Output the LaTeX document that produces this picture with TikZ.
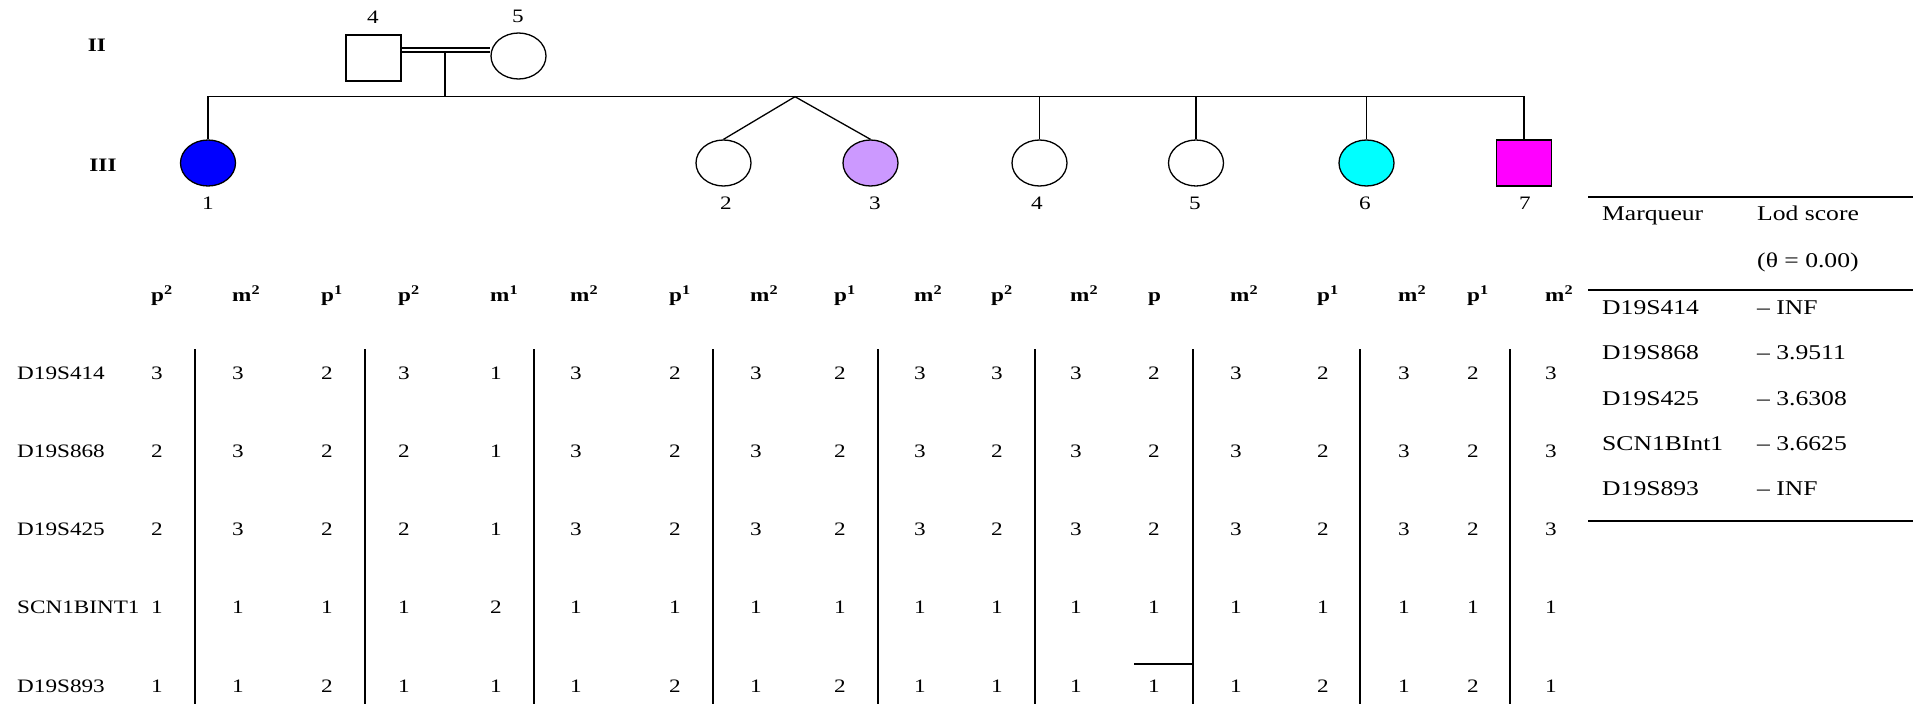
\documentclass[tikz,border=0pt]{standalone}
\usepackage{fontspec}
\setmainfont{Liberation Serif}[FakeStretch=1.22]
\usetikzlibrary{shapes.geometric}
\definecolor{cblue}{HTML}{0000FF}
\definecolor{clav}{HTML}{CC99FF}
\definecolor{ccyan}{HTML}{00FFFF}
\definecolor{cmag}{HTML}{FF00FF}
\begin{document}
\begin{tikzpicture}[x=1pt,y=-1pt,
  ped/.style={draw=black, line width=1.3pt, inner sep=0pt, minimum width=55pt, minimum height=46pt},
  fem/.style={ped, ellipse},
  mal/.style={ped, rectangle},
  lnk/.style={line width=1.3pt},
  lbl/.style={inner sep=0pt, font=\fontsize{19}{23}\selectfont},
  gen/.style={inner sep=0pt, font=\bfseries\fontsize{19}{23}\selectfont},
  cell/.style={inner sep=0pt, anchor=base west, font=\fontsize{19}{23}\selectfont},
  hdr/.style={inner sep=0pt, anchor=base west, font=\bfseries\fontsize{19}{23}\selectfont},
  sepline/.style={line width=2pt},
  rt/.style={inner sep=0pt, anchor=base west, font=\fontsize{21}{25}\selectfont},
  rulel/.style={line width=2pt}
]
\useasboundingbox (0,0) rectangle (1922,704);

% generations
\node[gen] (gII) at (97,45) {II};
\node[gen] (gIII) at (103,165) {III};

% generation II
\node[mal] (p4) at (373.5,58) {};
\node[fem] (p5) at (518.5,56) {};
\node[lbl] (l4) at (373,17) {4};
\node[lbl] (l5) at (518,16) {5};
\coordinate (mt) at (0,48);
\coordinate (mb) at (0,52);
\draw[lnk] (p4.east |- mt) -- (p5.west |- mt);
\draw[lnk] (p4.east |- mb) -- (p5.west |- mb);
\coordinate (mar) at (445,52);
\coordinate (sib) at (0,96.7);
\draw[lnk] (mar) -- (mar |- sib);

% generation III
\node[fem, fill=cblue] (c1) at (208,163) {};
\node[fem] (c2) at (723.5,163) {};
\node[fem, fill=clav] (c3) at (870.5,163) {};
\node[fem] (c4) at (1039.5,163) {};
\node[fem] (c5) at (1196,163) {};
\node[fem, fill=ccyan] (c6) at (1366.5,163) {};
\node[mal, fill=cmag] (c7) at (1524,163) {};

\draw[lnk] (c1.north) -- (c1.north |- sib) -| (c7.north);
\coordinate (tw) at (795,96.7);
\draw[lnk] (c2.north) -- (tw) -- (c3.north);
\foreach \k in {4,5,6} \draw[lnk] (c\k.north) -- (c\k.north |- sib);

\node[lbl] (n1) at (208,203) {1};
\node[lbl] (n2) at (726,203) {2};
\node[lbl] (n3) at (875,203) {3};
\node[lbl] (n4) at (1037,203) {4};
\node[lbl] (n5) at (1195,203) {5};
\node[lbl] (n6) at (1365,203) {6};
\node[lbl] (n7) at (1525,203) {7};

% haplotype table
\def\cols{{157,238,327,404,496,576,675,756,840,920,997,1076,1154,1236,1323,1404,1473,1551}}
\foreach \h [count=\i] in {p\textsuperscript{2},m\textsuperscript{2},p\textsuperscript{1},p\textsuperscript{2},m\textsuperscript{1},m\textsuperscript{2},p\textsuperscript{1},m\textsuperscript{2},p\textsuperscript{1},m\textsuperscript{2},p\textsuperscript{2},m\textsuperscript{2},p,m\textsuperscript{2},p\textsuperscript{1},m\textsuperscript{2},p\textsuperscript{1},m\textsuperscript{2}}{
  \pgfmathsetmacro\cx{\cols[\i-1]-6}
  \node[hdr] (h\i) at (\cx,301) {\h};
}
\foreach \r/\yb/\nm/\vals in {
  1/379.5/D19S414/{3,3,2,3,1,3,2,3,2,3,3,3,2,3,2,3,2,3},
  2/457.5/D19S868/{2,3,2,2,1,3,2,3,2,3,2,3,2,3,2,3,2,3},
  3/535.5/D19S425/{2,3,2,2,1,3,2,3,2,3,2,3,2,3,2,3,2,3},
  4/613.5/SCN1BINT1/{1,1,1,1,2,1,1,1,1,1,1,1,1,1,1,1,1,1},
  5/692.5/D19S893/{1,1,2,1,1,1,2,1,2,1,1,1,1,1,2,1,2,1}}{
  \node[cell] (m\r) at (17,\yb) {\nm};
  \foreach \v [count=\i] in \vals {
    \pgfmathsetmacro\cx{\cols[\i-1]-6}
    \node[cell] (v\r-\i) at (\cx,\yb) {\v};
  }
}
\foreach \x in {195,365,534,713,878,1035,1193,1360,1510}
  \draw[sepline] (\x,349) -- (\x,704);
\draw[sepline] (1134,664) -- (1193,664);

% lod score table
\draw[rulel] (1588,197) -- (1913,197);
\draw[rulel] (1588,290) -- (1913,290);
\draw[rulel] (1588,521) -- (1913,521);
\node[rt] (t1a) at (1602,220) {Marqueur};
\node[rt] (t1b) at (1757,220) {Lod score};
\node[rt] (t2b) at (1757,267) {(θ = 0.00)};
\node[rt] (t3a) at (1602,314) {D19S414};
\node[rt] (t3b) at (1757,314) {– INF};
\node[rt] (t4a) at (1602,359) {D19S868};
\node[rt] (t4b) at (1757,359) {– 3.9511};
\node[rt] (t5a) at (1602,405) {D19S425};
\node[rt] (t5b) at (1757,405) {– 3.6308};
\node[rt] (t6a) at (1602,450) {SCN1BInt1};
\node[rt] (t6b) at (1757,450) {– 3.6625};
\node[rt] (t7a) at (1602,495) {D19S893};
\node[rt] (t7b) at (1757,495) {– INF};
\end{tikzpicture}
\end{document}
